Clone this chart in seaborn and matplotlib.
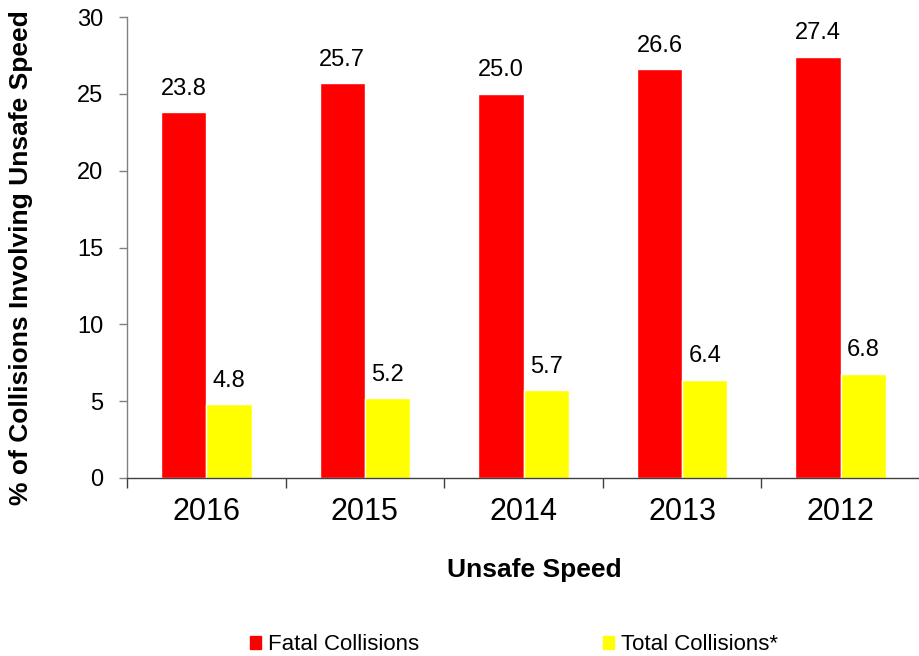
import numpy as np
import pandas as pd
import matplotlib
matplotlib.use('Agg')
import matplotlib.pyplot as plt
import seaborn as sns

# data
years = ['2016', '2015', '2014', '2013', '2012']
fatal = [23.8, 25.7, 25.0, 26.6, 27.4]
total = [4.8, 5.2, 5.7, 6.4, 6.8]
series = ['Fatal Collisions', 'Total Collisions*']
colors = ['#FF0000', '#FFFF00']

df = pd.DataFrame({
    'year': years * 2,
    'value': fatal + total,
    'series': [series[0]] * len(years) + [series[1]] * len(years),
})

sns.set_style('white')
plt.rcParams['font.family'] = ['Liberation Sans', 'DejaVu Sans']
plt.rcParams['text.color'] = 'black'
plt.rcParams['axes.labelcolor'] = 'black'
plt.rcParams['xtick.color'] = 'black'
plt.rcParams['ytick.color'] = 'black'

fig = plt.figure(figsize=(9.2, 6.56), dpi=100)
ax = fig.add_axes([127 / 920, 1 - 478 / 656, 793 / 920, 461 / 656])

sns.barplot(data=df, x='year', y='value', hue='series', palette=colors,
            width=0.57, saturation=1, ax=ax, legend=False)

for cont in ax.containers:
    ax.bar_label(cont, fmt='%.1f', padding=9, fontsize=17)

ax.set_ylim(0, 30)
ax.set_yticks(range(0, 31, 5))
ax.set_xlim(-0.5, len(years) - 0.5)
ax.tick_params(axis='y', labelsize=17, length=6, pad=11, direction='out',
               left=True, width=1, color='#808080')
ax.tick_params(axis='x', labelsize=22, length=0, pad=14)
ax.set_xticks(np.arange(-0.5, len(years)), minor=True)
ax.tick_params(axis='x', which='minor', length=7, bottom=True, direction='out',
               width=1, color='#404040')

for s in ['top', 'right']:
    ax.spines[s].set_visible(False)
ax.spines['left'].set_color('#808080')
ax.spines['bottom'].set_color('#404040')
ax.spines['left'].set_linewidth(1)
ax.spines['bottom'].set_linewidth(1)

ax.set_xlabel('Unsafe Speed', fontsize=19, fontweight='bold')
ax.xaxis.set_label_coords((534 - 127) / 793, -(558 - 478) / 461)
ax.set_ylabel('% of Collisions Involving Unsafe Speed', fontsize=19, fontweight='bold')
ax.yaxis.set_label_coords(-(127 - 33) / 793, (478 - 258) / 461)

handles = [plt.Rectangle((0, 0), 1, 1, color=c) for c in colors]
fig.legend(handles, series, loc='center', bbox_to_anchor=(514 / 920, 1 - 645 / 656), ncol=2,
           frameon=False, fontsize=16, handlelength=0.5, handleheight=0.5,
           handletextpad=0.3, columnspacing=8.3)

plt.savefig('out.png', dpi=100)
plt.close()
